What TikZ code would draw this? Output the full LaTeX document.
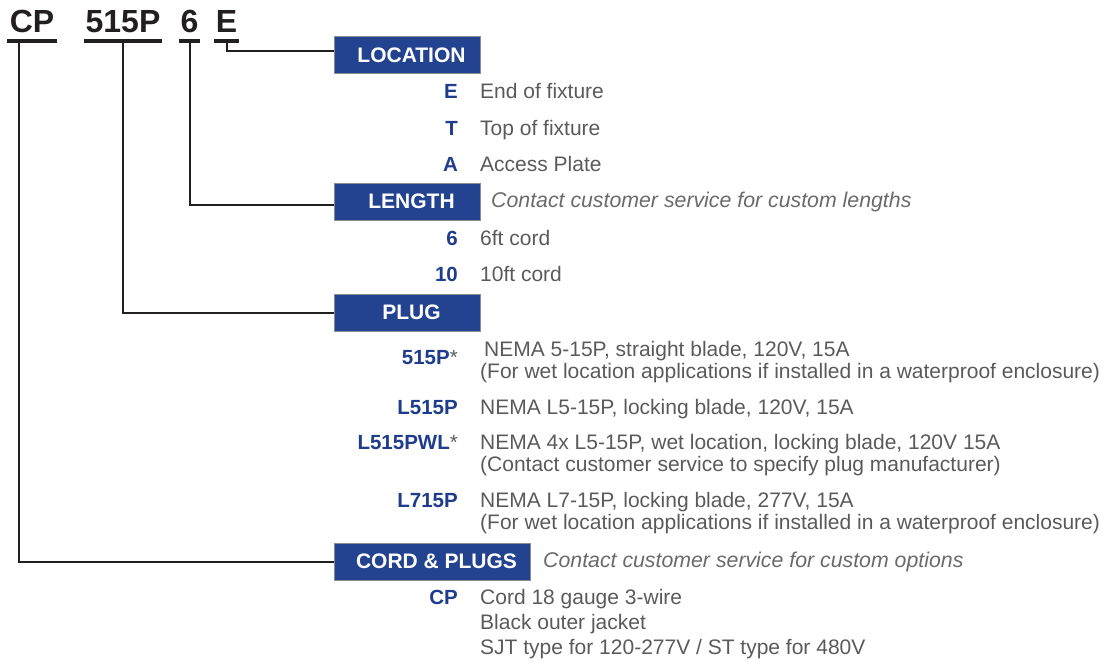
\documentclass[tikz,border=0pt]{standalone}
\usepackage{fontspec}
\setmainfont{Liberation Sans}
\usepackage{tikz}
\usetikzlibrary{positioning}
\definecolor{boxblue}{HTML}{23428F}
\definecolor{boxedge}{HTML}{8C8C8C}
\definecolor{codeblue}{HTML}{1F3D8C}
\definecolor{descgray}{HTML}{5A5A5A}
\definecolor{notegray}{HTML}{6A6A6A}
\definecolor{hdrblack}{HTML}{231F20}
\newcommand{\plugstar}{\textcolor{descgray}{\mdseries*}}

\begin{document}
\begin{tikzpicture}[x=1pt, y=-1pt,
    hdr/.style={font=\fontsize{32}{32}\selectfont\bfseries, text=hdrblack, inner sep=0, anchor=base},
    bar/.style={line width=4pt, hdrblack},
    conn/.style={line width=2pt, hdrblack},
    box/.style={fill=boxblue, draw=boxedge, line width=1pt, text=white, font=\fontsize{21}{21}\selectfont\bfseries, minimum height=37pt, minimum width=146pt, inner sep=0, anchor=west},
    code/.style={font=\fontsize{20.5}{22.5}\selectfont\bfseries, text=codeblue, inner sep=0, anchor=base east},
    desc/.style={font=\fontsize{21}{22.5}\selectfont, text=descgray, inner sep=0, anchor=base west, align=left},
    note/.style={font=\fontsize{21.3}{21}\selectfont\itshape, text=notegray, inner sep=0}]

    \useasboundingbox (0,0) rectangle (1111,662);

    % part number with its bars
    \foreach \n/\t/\x/\w in {cp/CP/32/50, pl/515P/123/78, ln/6/189.5/21, lc/E/226.5/25}{
        \node[hdr] (\n) at (\x,32) {\t};
        \coordinate (\n-b) at (\x,40.5);
        \draw[bar] ([xshift=-\w/2]\n-b) -- ([xshift=\w/2]\n-b);
    }

    % heading boxes
    \node[box] (loc) at (334,55) {\hspace*{8pt}LOCATION};
    \node[box] (len) at (334,201.5) {\hspace*{8pt}LENGTH};
    \node[box] (plug) at (334,312.5) {\hspace*{8pt}PLUG};
    \node[box, minimum width=196pt] (cord) at (334,561.5) {\hspace*{8pt}CORD \& PLUGS};

    \node[note, right=10pt of len] (lenN) {Contact customer service for custom lengths};
    \node[note, right=12pt of cord] (cordN) {Contact customer service for custom options};

    % options (code on first baseline, text anchored on its last baseline)
    \foreach \c/\d/\y/\yd [count=\i] in {
        E/{End of fixture}/98/98,
        T/{Top of fixture}/135/135,
        A/{Access Plate}/171/171,
        6/{6ft cord}/245/245,
        10/{10ft cord}/281/281,
        L515P/{NEMA L5-15P, locking blade, 120V, 15A}/414/414,
        {L515PWL\plugstar}/{NEMA 4x L5-15P, wet location, locking blade, 120V 15A\\(Contact customer service to specify plug manufacturer)}/449/471.5,
        L715P/{NEMA L7-15P, locking blade, 277V, 15A\\(For wet location applications if installed in a waterproof enclosure)}/507/529.5}{
        \node[code] (c\i) at (458,\y) {\c};
        \node[desc] (d\i) at (480,\yd) {\d};
    }

    \node[code] (c515) at (458,364) {515P\plugstar};
    \node[desc] (d515) at (480,378.5) {\hspace*{4pt}NEMA 5-15P, straight blade, 120V, 15A\\(For wet location applications if installed in a waterproof enclosure)};

    \node[code] (ccp) at (458,604) {CP};
    \node[desc, font=\fontsize{21}{25}\selectfont] (dcp) at (480,654) {Cord 18 gauge 3-wire\\Black outer jacket\\SJT type for 120-277V / ST type for 480V};

    % leaders
    \draw[conn] (lc-b) |- ([yshift=4pt]loc.west);
    \draw[conn] (ln-b) |- ([yshift=-3pt]len.west);
    \draw[conn] (pl-b) |- (plug.west);
    \draw[conn] ([xshift=-13pt]cp-b) |- (cord.west);

\end{tikzpicture}
\end{document}
